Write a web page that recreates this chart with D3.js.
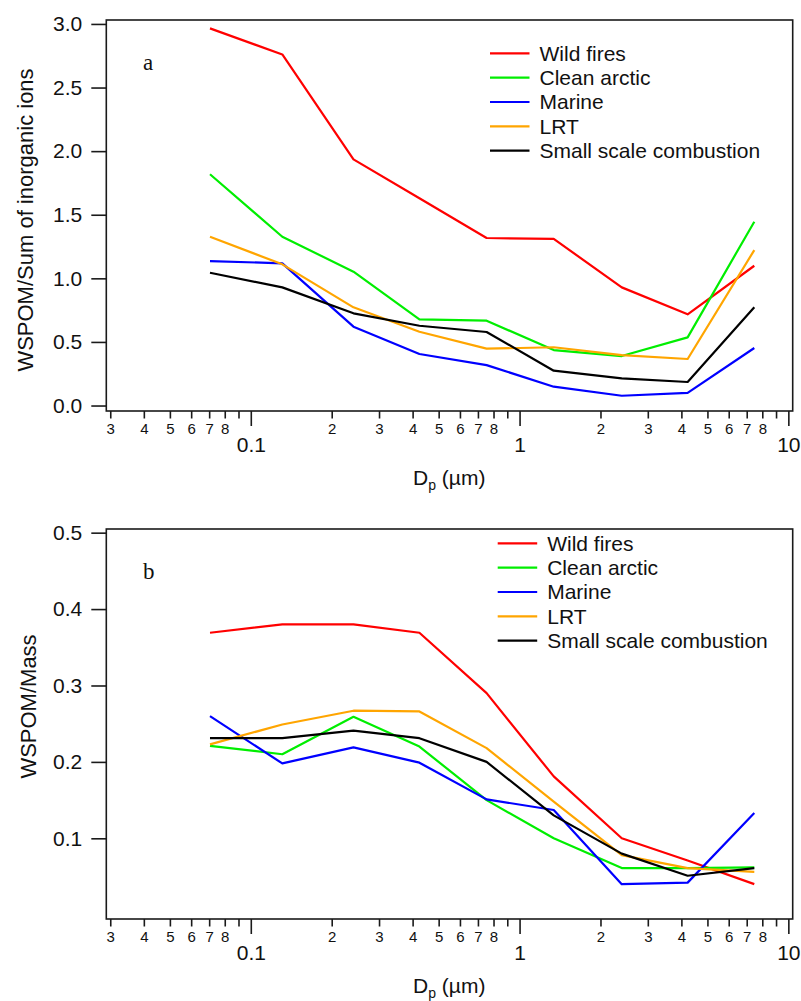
<!DOCTYPE html>
<html>
<head>
<meta charset="utf-8">
<script src="https://cdn.jsdelivr.net/npm/d3@7"></script>
<style>
  html, body { margin: 0; padding: 0; background: #fff; }
  svg { display: block; font-family: "Liberation Sans", Arial, sans-serif; }
</style>
</head>
<body>
<svg id="chart" width="801" height="1001"></svg>
<script>
// Particle diameter (µm) of each impactor stage
const diameters = [0.0705, 0.131, 0.241, 0.424, 0.754, 1.34, 2.40, 4.22, 7.47];

const seriesNames = ["Wild fires", "Clean arctic", "Marine", "LRT", "Small scale combustion"];
const seriesColors = ["#ff0000", "#00ee00", "#0000ff", "#ffa500", "#000000"];

// Panel a: WSPOM / sum of inorganic ions
const wildFiresA    = [2.965, 2.76, 1.935, 1.63, 1.317, 1.31, 0.929, 0.717, 1.099];
const cleanArcticA  = [1.818, 1.327, 1.052, 0.678, 0.667, 0.436, 0.389, 0.536, 1.445];
const marineA       = [1.136, 1.118, 0.62, 0.405, 0.318, 0.148, 0.077, 0.10, 0.452];
const lrtA          = [1.327, 1.11, 0.772, 0.58, 0.447, 0.458, 0.397, 0.366, 1.222];
const smallScaleA   = [1.044, 0.929, 0.725, 0.627, 0.578, 0.274, 0.214, 0.185, 0.772];

// Panel b: WSPOM / mass
const wildFiresB    = [0.369, 0.380, 0.380, 0.369, 0.290, 0.181, 0.100, 0.071, 0.040];
const cleanArcticB  = [0.221, 0.210, 0.259, 0.220, 0.150, 0.100, 0.061, 0.061, 0.062];
const marineB       = [0.260, 0.198, 0.219, 0.199, 0.151, 0.137, 0.040, 0.042, 0.133];
const lrtB          = [0.223, 0.249, 0.267, 0.266, 0.218, 0.148, 0.078, 0.061, 0.056];
const smallScaleB   = [0.231, 0.231, 0.241, 0.231, 0.200, 0.130, 0.080, 0.051, 0.061];

const yTicksA = [0, 0.5, 1.0, 1.5, 2.0, 2.5, 3.0];
const yTicksB = [0.1, 0.2, 0.3, 0.4, 0.5];
const xMajorTicks = [0.1, 1, 10];
const xMinorTicks = [0.03, 0.04, 0.05, 0.06, 0.07, 0.08, 0.09,
                     0.2, 0.3, 0.4, 0.5, 0.6, 0.7, 0.8, 0.9,
                     2, 3, 4, 5, 6, 7, 8, 9];

const svg = d3.select("#chart");
const FONT = "\"Liberation Sans\", Arial, sans-serif";

const left = 106.3, right = 792.7;
const x = d3.scaleLog().domain([0.029, 10.38]).range([left, right]);

function minorLabel(v) {
  const m = Math.round(v / Math.pow(10, Math.floor(Math.log10(v) + 1e-9)));
  return m === 9 ? "" : String(m);
}

function drawPanel(cfg) {
  const { top, bottom, yDomain, yTicks, series, letter, yTitle, yTitleX, yTitleY, legendX, legendY } = cfg;
  const y = d3.scaleLinear().domain(yDomain).range([bottom, top]);
  const g = svg.append("g");

  // frame
  g.append("rect")
    .attr("x", left).attr("y", top)
    .attr("width", right - left).attr("height", bottom - top)
    .attr("fill", "none").attr("stroke", "#1a1a1a").attr("stroke-width", 1.6);

  // y axis
  const yAxis = d3.axisLeft(y).tickValues(yTicks).tickFormat(d3.format(".1f"))
    .tickSizeInner(15).tickSizeOuter(0).tickPadding(9);
  const ya = g.append("g").attr("transform", `translate(${left},0)`).call(yAxis);
  ya.select(".domain").remove();
  ya.selectAll(".tick line").attr("stroke", "#1a1a1a").attr("stroke-width", 1.6);
  ya.selectAll(".tick text").attr("font-size", 21).attr("font-family", FONT).attr("fill", "#111");

  // x axis: minor ticks with small digits
  const xMinor = d3.axisBottom(x).tickValues(xMinorTicks).tickFormat(minorLabel)
    .tickSizeInner(7.5).tickSizeOuter(0).tickPadding(7);
  const xm = g.append("g").attr("transform", `translate(0,${bottom})`).call(xMinor);
  xm.select(".domain").remove();
  xm.selectAll(".tick line").attr("stroke", "#1a1a1a").attr("stroke-width", 1.6);
  xm.selectAll(".tick text").attr("font-size", 15).attr("font-family", FONT).attr("fill", "#111")
    .attr("dy", null).attr("y", 23);

  // x axis: decade ticks
  const xMajor = d3.axisBottom(x).tickValues(xMajorTicks).tickFormat(d => String(d))
    .tickSizeInner(15).tickSizeOuter(0);
  const xM = g.append("g").attr("transform", `translate(0,${bottom})`).call(xMajor);
  xM.select(".domain").remove();
  xM.selectAll(".tick line").attr("stroke", "#1a1a1a").attr("stroke-width", 1.6);
  xM.selectAll(".tick text").attr("font-size", 21).attr("font-family", FONT).attr("fill", "#111")
    .attr("dy", null).attr("y", 41);

  // x axis title
  const xt = g.append("text")
    .attr("x", 413).attr("y", bottom + 74)
    .attr("font-size", 21).attr("font-family", FONT).attr("fill", "#111");
  xt.append("tspan").text("D");
  xt.append("tspan").attr("font-size", 14).attr("dy", 5).text("p");
  xt.append("tspan").attr("dy", -5).text(" (µm)");

  // y axis title
  g.append("text")
    .attr("transform", `translate(${yTitleX},${yTitleY}) rotate(-90)`)
    .attr("text-anchor", "middle")
    .attr("font-size", 22).attr("font-family", FONT).attr("fill", "#111")
    .text(yTitle);

  // panel letter
  g.append("text")
    .attr("x", 143).attr("y", top + 50)
    .attr("font-size", 23).attr("font-family", "\"Liberation Serif\", \"Times New Roman\", serif")
    .attr("fill", "#111").text(letter);

  // series lines
  const line = d3.line().x(d => x(d[0])).y(d => y(d[1]));
  series.forEach((vals, i) => {
    g.append("path")
      .datum(diameters.map((d, j) => [d, vals[j]]))
      .attr("fill", "none")
      .attr("stroke", seriesColors[i])
      .attr("stroke-width", 2.2)
      .attr("stroke-linejoin", "round")
      .attr("d", line);
  });

  // legend
  const lg = g.append("g").attr("transform", `translate(${legendX},${legendY})`);
  seriesNames.forEach((name, i) => {
    const row = lg.append("g").attr("transform", `translate(0,${i * 24.35})`);
    row.append("line").attr("x1", 0).attr("x2", 39.5).attr("y1", 0).attr("y2", 0)
      .attr("stroke", seriesColors[i]).attr("stroke-width", 2.2);
    row.append("text").attr("x", 49.5).attr("dy", "0.35em")
      .attr("font-size", 21).attr("font-family", FONT).attr("fill", "#111").text(name);
  });
}

drawPanel({
  top: 20, bottom: 411,
  yDomain: [-0.043, 3.031], yTicks: yTicksA,
  series: [wildFiresA, cleanArcticA, marineA, lrtA, smallScaleA],
  letter: "a", yTitle: "WSPOM/Sum of inorganic ions",
  yTitleX: 33, yTitleY: 220,
  legendX: 490, legendY: 53.3
});

drawPanel({
  top: 529, bottom: 919,
  yDomain: [-0.0056, 0.5048], yTicks: yTicksB,
  series: [wildFiresB, cleanArcticB, marineB, lrtB, smallScaleB],
  letter: "b", yTitle: "WSPOM/Mass",
  yTitleX: 36, yTitleY: 706.5,
  legendX: 497.7, legendY: 543.3
});
</script>
</body>
</html>
